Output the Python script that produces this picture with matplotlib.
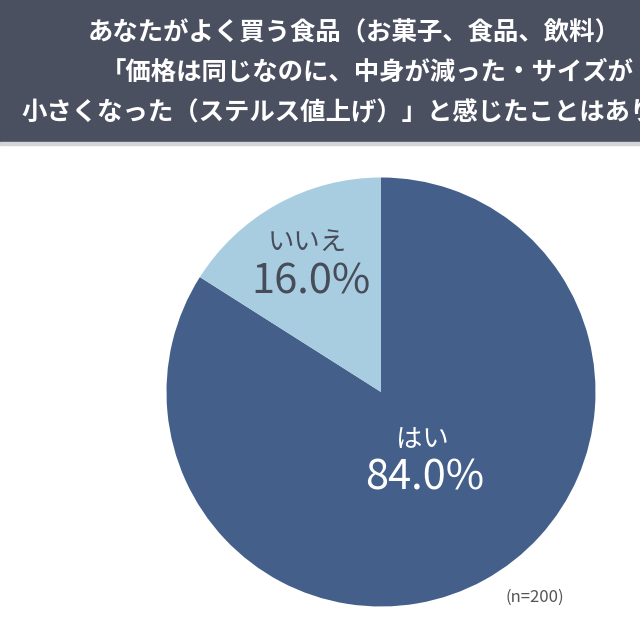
import matplotlib
matplotlib.use('Agg')
import matplotlib.pyplot as plt
from matplotlib.patches import Rectangle

plt.rcParams['font.family'] = ['Noto Sans CJK JP', 'DejaVu Sans']

# ===== データ =====
labels = ['はい', 'いいえ']
values = [84.0, 16.0]
colors = ['#445f8a', '#a9cde0']
label_colors = ['white', '#474c5a']
title_lines = [
    'あなたがよく買う食品（お菓子、食品、飲料）',
    '「価格は同じなのに、中身が減った・サイズが',
    '小さくなった（ステルス値上げ）」と感じたことはありますか？',
]
n_note = '(n=200)'

# ===== 画図 (ピクセル座標, y は下から) =====
W = H = 640
fig = plt.figure(figsize=(6.4, 6.4), dpi=100)
ax = fig.add_axes([0, 0, 1, 1])

ax.pie(values, colors=colors, startangle=90, counterclock=False,
       center=(381, H - 392), radius=214.5,
       wedgeprops=dict(linewidth=0))
ax.set_xlim(0, W); ax.set_ylim(0, H)
ax.set_aspect('equal'); ax.axis('off')

# ヘッダー（参考画像と同じく右端で切れる）
ax.add_patch(Rectangle((0, H - 142), W, 142, color='#4b5061', zorder=3))
ax.add_patch(Rectangle((0, H - 145), W, 3, color='#d4d5d8', zorder=3))
title_x = [88, 101, 21]
title_y = [33, 72, 113]
for s, x, y in zip(title_lines, title_x, title_y):
    ax.text(x, H - y, s, color='white', fontsize=18.3, fontweight='bold',
            ha='left', va='center', zorder=4)

# ラベル
name_pos = [(422, 439), (307, 242)]
pct_pos = [(425, 478), (311, 282)]
for lab, v, c, (nx, ny), (px, py) in zip(labels, values, label_colors, name_pos, pct_pos):
    ax.text(nx, H - ny, lab, color=c, fontsize=19, ha='center', va='center')
    ax.text(px, H - py, f'{v:.1f}%', color=c, fontsize=30,
            ha='center', va='center')

ax.text(535, H - 597, n_note, color='#555555', fontsize=12, ha='center', va='center')

plt.savefig('out.png', dpi=100)
